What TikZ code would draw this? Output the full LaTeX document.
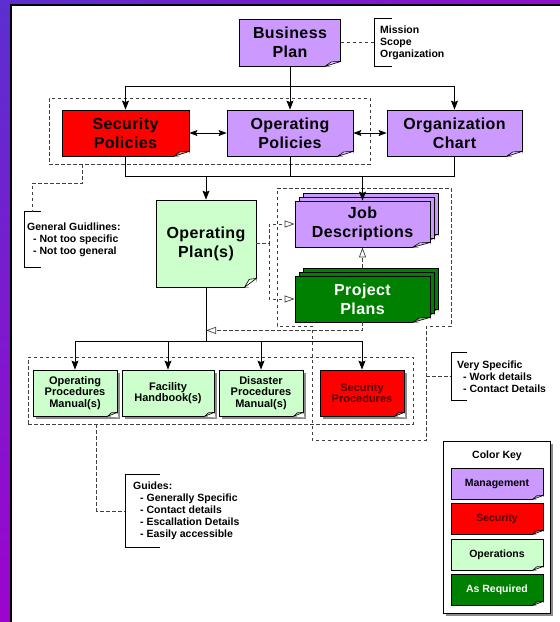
\documentclass[tikz,border=0pt]{standalone}
\usepackage{fontspec}
\setmainfont{Liberation Sans}
\newfontfamily\wideface{Liberation Sans}[LetterSpace=2.5]
\usetikzlibrary{arrows.meta, shadows}
\tikzset{>=Stealth}
\definecolor{mgmt}{HTML}{CC99FF}
\definecolor{secur}{HTML}{FF0000}
\definecolor{oper}{HTML}{CCFFCC}
\definecolor{asreq}{HTML}{008000}
\definecolor{darkred}{HTML}{550000}
\definecolor{bandtop}{HTML}{5B2FD0}
\definecolor{bandbot}{HTML}{9C05CC}
\tikzstyle{bigbox} = [rectangle, draw = black, line width = 0.8pt, align = center, inner sep = 0pt, minimum height = 46pt, font = \wideface\bfseries\fontsize{16}{19}\selectfont]
\tikzstyle{procbox} = [rectangle, draw = black, line width = 0.8pt, align = center, inner sep = 0pt, minimum width = 84pt, minimum height = 46pt, font = \bfseries\fontsize{11}{11.5}\selectfont, drop shadow = {shadow xshift = 3pt, shadow yshift = -3pt, fill = black!45, opacity = 1}]
\tikzstyle{keybox} = [rectangle, draw = black, line width = 0.8pt, inner sep = 0pt, minimum width = 92pt, minimum height = 31pt, font = \bfseries\fontsize{10.5}{12}\selectfont]
\tikzstyle{note} = [anchor = west, align = left, inner sep = 0pt, font = \bfseries\fontsize{10.5}{12}\selectfont]
\tikzstyle{line} = [draw = black, line width = 0.8pt]
\tikzstyle{arr} = [line, -{Stealth[length = 9pt, width = 7pt, inset = 1.5pt]}]
\tikzstyle{dblarr} = [line, {Stealth[length = 8pt, width = 6pt, inset = 1.5pt]}-{Stealth[length = 8pt, width = 6pt, inset = 1.5pt]}]
\tikzstyle{group} = [draw = black!75, line width = 0.7pt, dash pattern = on 3.5pt off 2.5pt]
\tikzstyle{hint} = [group, -{Triangle[open, length = 10pt, width = 7pt, fill = white]}]
% folded corner at the bottom right of a node
\newcommand{\dogear}[4]{%
  \fill[white] ([xshift=-#2]#1.south east) -- ([xshift=1pt, yshift=-1pt]#1.south east) -- ([yshift=#3]#1.south east) -- cycle;
  \draw[line width = 0.6pt, line join = round, fill = #4!45!white] ([xshift=-#2]#1.south east) -- ([xshift=-0.6*#2, yshift=0.9*#3]#1.south east) -- ([yshift=#3]#1.south east) -- cycle;
}
% bracket on the left of a note
\newcommand{\notebracket}[2]{%
  \draw[line] ([xshift=#2]#1.north west) -- (#1.north west) -- (#1.south west) -- ([xshift=#2]#1.south west);
}

\begin{document}
\begin{tikzpicture}[x = 1pt, y = -1pt]
\useasboundingbox (0,0) rectangle (560,622);
% frame
\shade[top color = bandtop, bottom color = bandbot] (0,0) rectangle (10,622);
\shade[left color = bandtop, right color = bandbot!80!bandtop] (0,0) rectangle (560,4);
\draw[line width = 2pt] (11,622) -- (11,5) -- (560,5);

% policies
\node (bizplan) [bigbox, fill = mgmt, minimum width = 101pt, minimum height = 47pt] at (290,42.5) {Business\\Plan};
\node (secpol) [bigbox, fill = secur, minimum width = 127pt] at (125.5,133) {Security\\Policies};
\node (oppol) [bigbox, fill = mgmt, minimum width = 126pt] at (290,133) {Operating\\Policies};
\node (orgchart) [bigbox, fill = mgmt, minimum width = 135pt] at (454.5,133) {Organization\\Chart};
\foreach \n/\c in {bizplan/mgmt, secpol/secur, oppol/mgmt, orgchart/mgmt} {\dogear{\n}{16pt}{5pt}{\c}}
\node (polgroup) [group, minimum width = 321pt, minimum height = 66pt] at (209.5,131) {};

% plans
\node (opplan) [bigbox, fill = oper, minimum width = 100pt, minimum height = 87pt] at (206,243.5) {Operating\\Plan(s)};
\dogear{opplan}{12pt}{9pt}{oper}
\node (jobdesc3) [bigbox, fill = mgmt, minimum width = 135pt] at (370.5,216) {};
\dogear{jobdesc3}{18pt}{5pt}{mgmt}
\node (jobdesc2) [bigbox, fill = mgmt, minimum width = 135pt] at (366.5,220) {};
\dogear{jobdesc2}{18pt}{5pt}{mgmt}
\node (jobdesc) [bigbox, fill = mgmt, minimum width = 135pt] at (362.5,224) {Job\\Descriptions};
\dogear{jobdesc}{18pt}{5pt}{mgmt}
\node (projplan3) [bigbox, fill = asreq, minimum width = 135pt] at (370.5,291) {};
\dogear{projplan3}{18pt}{5pt}{asreq}
\node (projplan2) [bigbox, fill = asreq, minimum width = 135pt] at (366.5,295) {};
\dogear{projplan2}{18pt}{5pt}{asreq}
\node (projplan) [bigbox, fill = asreq, text = white, minimum width = 135pt] at (362.5,299) {Project\\Plans};
\dogear{projplan}{18pt}{5pt}{asreq}
\draw[group] (277,188) -- (451,188) -- (451,326) -- (426,326) coordinate (plannotch) -- (426,440) -- (312,440) -- (312,326) -- (277,326) -- cycle;

% procedures
\node (opman) [procbox, fill = oper] at (75,393) {Operating\\Procedures\\Manual(s)};
\node (facil) [procbox, fill = oper, minimum width = 92pt] at (168,393) {Facility\\Handbook(s)};
\node (disaster) [procbox, fill = oper] at (261,393) {Disaster\\Procedures\\Manual(s)};
\node (secproc) [procbox, fill = secur, text = darkred] at (362,393) {Security\\Procedures};
\foreach \n/\c in {opman/oper, facil/oper, disaster/oper, secproc/secur} {\dogear{\n}{10pt}{4pt}{\c}}
\node (procgroup) [group, minimum width = 385pt, minimum height = 67pt] at (220.5,390.5) {};

% notes
\node (mission) [note, inner xsep = 6pt, minimum height = 47pt] at (374,42.5) {Mission\\Scope\\Organization};
\notebracket{mission}{18pt}
\node (gennote) [note, inner xsep = 3pt, minimum height = 55pt] at (24,239.5) {General Guidlines:\\\hspace*{6pt}- Not too specific\\\hspace*{6pt}- Not too general};
\notebracket{gennote}{17pt}
\node (specnote) [note, inner xsep = 6pt, minimum height = 47pt] at (451,376.5) {Very Specific\\\hspace*{6pt}- Work details\\\hspace*{6pt}- Contact Details};
\notebracket{specnote}{16pt}
\node (guidenote) [note, inner xsep = 8pt, minimum height = 72pt] at (125,511) {Guides:\\\hspace*{7pt}- Generally Specific\\\hspace*{7pt}- Contact details\\\hspace*{7pt}- Escallation Details\\\hspace*{7pt}- Easily accessible};
\notebracket{guidenote}{35pt}

% colour key
\node (colorkey) [draw = black, line width = 0.8pt, fill = white, minimum width = 107pt, minimum height = 172pt, drop shadow = {shadow xshift = 3pt, shadow yshift = -3pt, fill = black!45, opacity = 1}] at (496.5,527) {};
\node (keytitle) [font = \bfseries\fontsize{10.5}{12}\selectfont] at (497,456) {Color Key};
\foreach \nm/\col/\ink/\y/\txt in {keymgmt/mgmt/black/483.5/Management, keysec/secur/darkred/518.5/Security, keyops/oper/black/554.5/Operations, keyreq/asreq/white/589.5/As Required} {
  \node (\nm) [keybox, fill = \col, text = \ink] at (497,\y) {\txt};
  \dogear{\nm}{11pt}{4pt}{\col}
}

% connectors
\draw[arr] (bizplan.south) -- (oppol.north);
\draw[arr] (bizplan.south) -- ++(0,20) coordinate (bizbus) -| (secpol.north);
\draw[arr] (bizbus) -| (orgchart.north);
\draw[dblarr] (secpol) -- (oppol);
\draw[dblarr] (oppol) -- (orgchart);
\draw[line] (secpol.south) -- ++(0,20) coordinate (polbus) -| (orgchart.south);
\draw[line] (oppol.south) -- (oppol.south |- polbus);
\draw[arr] (opplan.north |- polbus) -- (opplan.north);
\draw[arr] (jobdesc.north |- polbus) -- (jobdesc.north);
\draw[line] (opplan.south) -- ++(0,54) coordinate (procbus);
\draw[line] (opman.north |- procbus) -- (secproc.north |- procbus);
\foreach \n in {opman, facil, disaster, secproc} {\draw[arr] (\n.north |- procbus) -- (\n.north);}
\draw[hint] (opplan.east) -- ++(13,0) |- (jobdesc.west);
\draw[hint] (opplan.east) -- ++(13,0) |- (projplan.west);
\draw[hint] ([yshift=8pt]projplan.north) -- (jobdesc.south);
\draw[hint] (projplan.south) -- ++(0,8) coordinate (planback) -- (opplan.south |- planback);

% dashed links to notes
\draw[group] (bizplan.east) -- (mission.west);
\draw[group] ([xshift=34pt]polgroup.south west) -- ++(0,19) -| ([xshift=8pt]gennote.north west);
\draw[group] (specnote.west -| plannotch) -- (specnote.west);
\draw[group] ([xshift=69pt]procgroup.south west) |- (guidenote.west);
\end{tikzpicture}
\end{document}
